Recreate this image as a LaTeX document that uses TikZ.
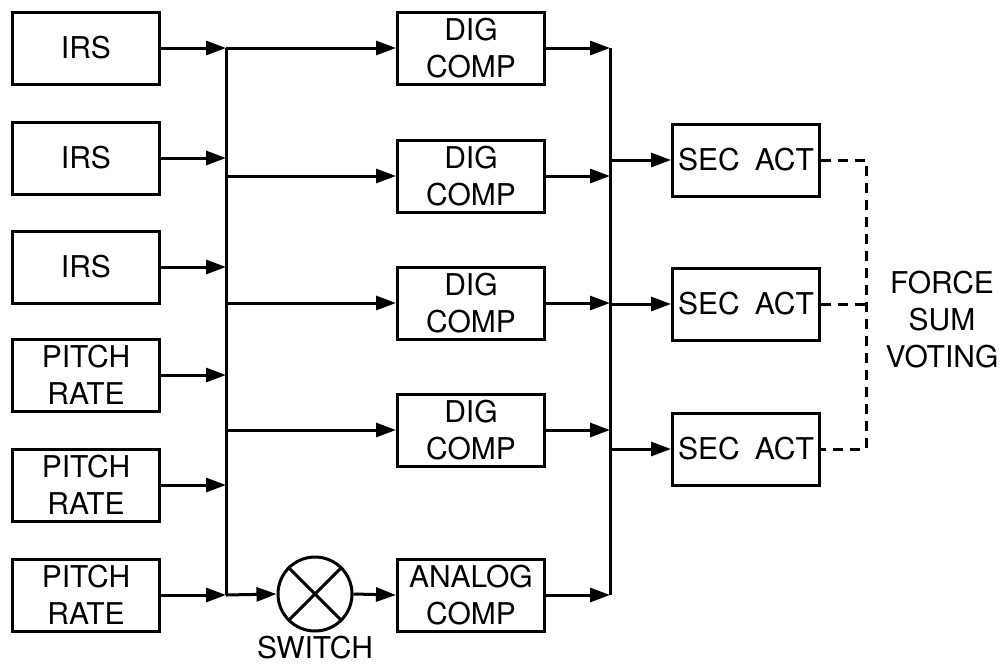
\documentclass[tikz,border=0pt]{standalone}
\usepackage{fontspec}
\setmainfont{TeX Gyre Heros}
\usetikzlibrary{arrows.meta}
\begin{document}
\begin{tikzpicture}[x=1pt,y=-1pt,
  box/.style={draw, line width=3pt, minimum width=147pt, minimum height=72pt, inner sep=0pt, align=center, font=\fontsize{30}{37}\selectfont},
  lbl/.style={align=center, inner sep=0pt, font=\fontsize{30}{37}\selectfont},
  wire/.style={line width=3pt},
  arr/.style={wire, -{Triangle[length=20pt,width=14pt]}},
  dsh/.style={line width=3pt, dash pattern=on 10pt off 7pt}]
\useasboundingbox (0,0) rectangle (1002,665);
% inputs
\node[box] (i1) at (86,48) {IRS};
\node[box] (i2) at (86,158) {IRS};
\node[box] (i3) at (86,267) {IRS};
\node[box] (p1) at (86,375) {PITCH\\RATE};
\node[box] (p2) at (86,485) {PITCH\\RATE};
\node[box] (p3) at (86,595) {PITCH\\RATE};
% computers
\node[box] (d1) at (471,48) {DIG\\COMP};
\node[box] (d2) at (471,176) {DIG\\COMP};
\node[box] (d3) at (471,303) {DIG\\COMP};
\node[box] (d4) at (471,430) {DIG\\COMP};
\node[box] (an) at (471,595) {ANALOG\\COMP};
% switch
\node[draw, circle, line width=3pt, minimum size=74pt, inner sep=0pt] (sw) at (315,594) {};
\draw[wire] (sw.north west) -- (sw.south east) (sw.north east) -- (sw.south west);
\node[lbl] (swl) at (315,648) {SWITCH};
% actuators
\node[box] (s1) at (746,160) {SEC\enspace ACT};
\node[box] (s2) at (746,304) {SEC\enspace ACT};
\node[box] (s3) at (746,449) {SEC\enspace ACT};
\node[lbl] (fsv) at (942,320) {FORCE\\SUM\\VOTING};
% left bus
\coordinate (lt) at (226,48);
\coordinate (lb) at (226,595);
\draw[wire] (lt) -- (lb);
\foreach \n in {i1,i2,i3,p1,p2,p3}{
  \draw[arr] (\n.east) -- (\n.east -| lt);
}
\foreach \n in {d1,d2,d3,d4}{
  \draw[arr] (\n.west -| lt) -- (\n.west);
}
\draw[arr] (lb) -- (sw.west);
\draw[arr] (sw.east) -- (an.west);
% right bus
\coordinate (rt) at (610,48);
\coordinate (rb) at (610,595);
\draw[wire] (rt) -- (rb);
\foreach \n in {d1,d2,d3,d4,an}{
  \draw[arr] (\n.east) -- (\n.east -| rt);
}
\foreach \n in {s1,s2,s3}{
  \draw[arr] (\n.west -| rt) -- (\n.west);
}
% voting
\coordinate (vt) at (866,160);
\coordinate (vb) at (866,449);
\draw[dsh] (s1.east) -- (vt) -- (vb) -- (s3.east);
\draw[dsh] (s2.east) -- (s2.east -| vt);
\end{tikzpicture}
\end{document}
